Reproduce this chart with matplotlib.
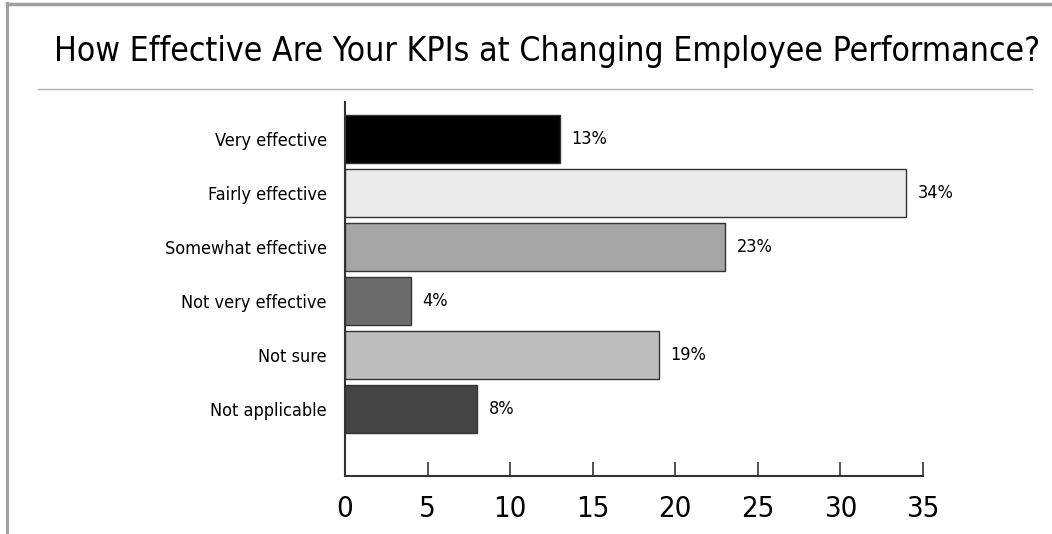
import matplotlib
matplotlib.use("Agg")
import matplotlib.pyplot as plt

plt.rcParams['font.family'] = ['DejaVu Sans']
plt.rcParams['font.stretch'] = 'condensed'

categories = ["Very effective", "Fairly effective", "Somewhat effective",
              "Not very effective", "Not sure", "Not applicable"]
values = [13, 34, 23, 4, 19, 8]
colors = ["#000000", "#ebebeb", "#a6a6a6", "#6b6b6b", "#bebebe", "#444444"]
xticks = [0, 5, 10, 15, 20, 25, 30, 35]

W, H = 1052, 534
fig = plt.figure(figsize=(W / 100, H / 100), dpi=100)

# page frame and title rule
fig.add_artist(plt.Line2D([6.5 / W, 6.5 / W], [0, 1 - 3 / H], color="#a0a0a0", lw=2.2))
fig.add_artist(plt.Line2D([6.5 / W, 1], [1 - 4 / H, 1 - 4 / H], color="#a0a0a0", lw=2.5))
fig.add_artist(plt.Line2D([38 / W, 1032 / W], [1 - 89 / H, 1 - 89 / H], color="#b4b4b4", lw=1))
fig.text(1040 / W, 1 - 51 / H, "How Effective Are Your KPIs at Changing Employee Performance?",
         ha="right", va="center", fontsize=24.2)

ax = fig.add_axes([345 / W, 1 - 476 / H, (923 - 345) / W, (476 - 102) / H])
ypos = list(range(len(categories)))
ax.barh(ypos, values, height=0.89, color=colors, edgecolor="#333333", linewidth=1)
for y, v in zip(ypos, values):
    ax.text(v + 0.7, y, f"{v}%", va="center", ha="left", fontsize=13)

ax.set_xlim(0, 35)
ax.set_ylim(6.24, -0.685)
ax.set_yticks(ypos)
ax.set_yticklabels(categories, fontsize=13)
ax.tick_params(axis="y", length=0, pad=13)
ax.set_xticks(xticks)
ax.set_xticklabels([str(t) for t in xticks], fontsize=21)
ax.tick_params(axis="x", direction="in", length=10, width=1.2, color="#333333", pad=14)
for s in ["top", "right"]:
    ax.spines[s].set_visible(False)
for s in ["left", "bottom"]:
    ax.spines[s].set_color("#333333")
    ax.spines[s].set_linewidth(1.5)

fig.savefig("out.png", dpi=100)
